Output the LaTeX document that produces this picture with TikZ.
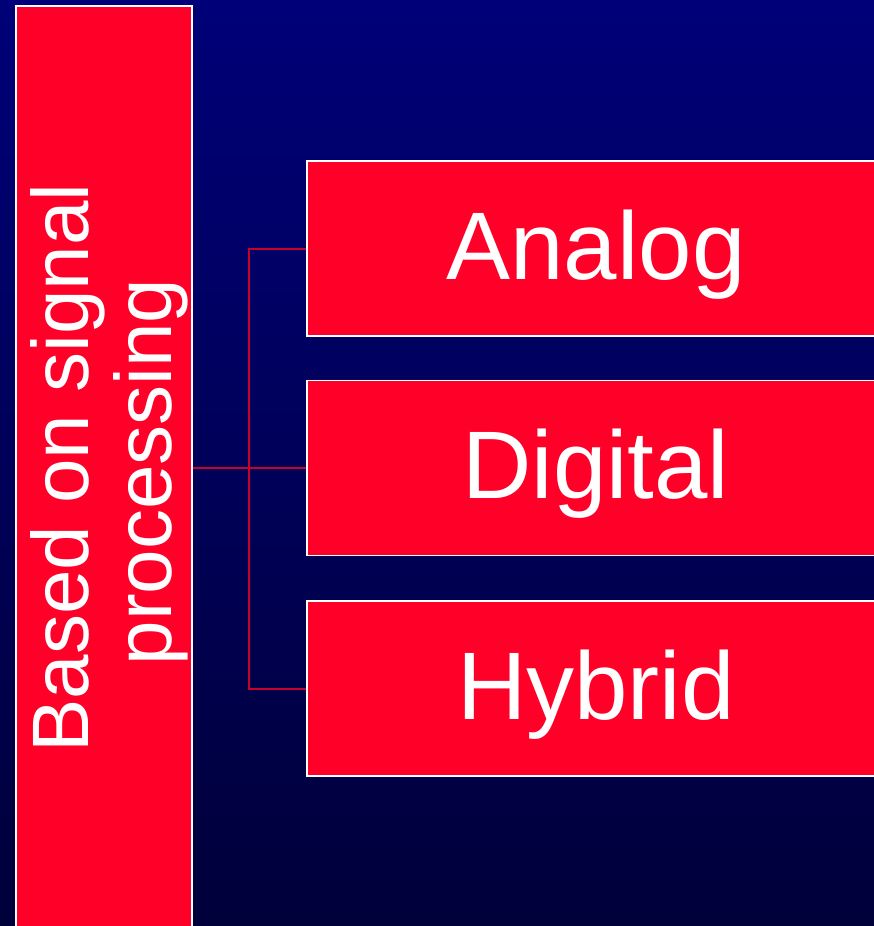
\documentclass[tikz,border=0pt]{standalone}
\usepackage{fontspec}
\setmainfont{Liberation Sans}
\definecolor{bgtop}{HTML}{000078}
\definecolor{bgbot}{HTML}{00003A}
\definecolor{boxred}{HTML}{FF0029}
\definecolor{linkred}{HTML}{C8002A}
\tikzset{
  redbox/.style={draw=white, line width=1.6pt, fill=boxred, inner sep=0pt},
  catbox/.style={redbox, minimum width=578pt, minimum height=175pt,
    font=\fontsize{96}{110}\selectfont, text=white,
    text height=76pt, text depth=15pt},
  sidetext/.style={rotate=90, anchor=base, text=white, inner sep=0pt,
    font=\fontsize{80}{92}\selectfont},
  conn/.style={draw=linkred, line width=2pt}
}
\begin{document}
\begin{tikzpicture}[x=1pt, y=-1pt]
  % page frame and background gradient
  \useasboundingbox (0,0) rectangle (874,926);
  \clip (0,0) rectangle (874,926);
  \shade[top color=bgtop, bottom color=bgbot] (0,0) rectangle (874,926);

  % tall category bar on the left
  \node[redbox, minimum width=176pt, minimum height=924pt] (src) at (104,468) {};
  \node[sidetext] (srcA) at (88,468) {Based on signal};
  \node[sidetext] (srcB) at (171,472) {processing};

  % the three kinds
  \node[catbox] (ana) at (596,248.5) {Analog};
  \node[catbox] (dig) at (596,468) {Digital};
  \node[catbox] (hyb) at (596,688.5) {Hybrid};

  % connectors
  \coordinate (bus) at (249,468);
  \draw[conn] (src.east) -- (dig.west);
  \draw[conn] (ana.west) -| (bus) |- (hyb.west);
\end{tikzpicture}
\end{document}
